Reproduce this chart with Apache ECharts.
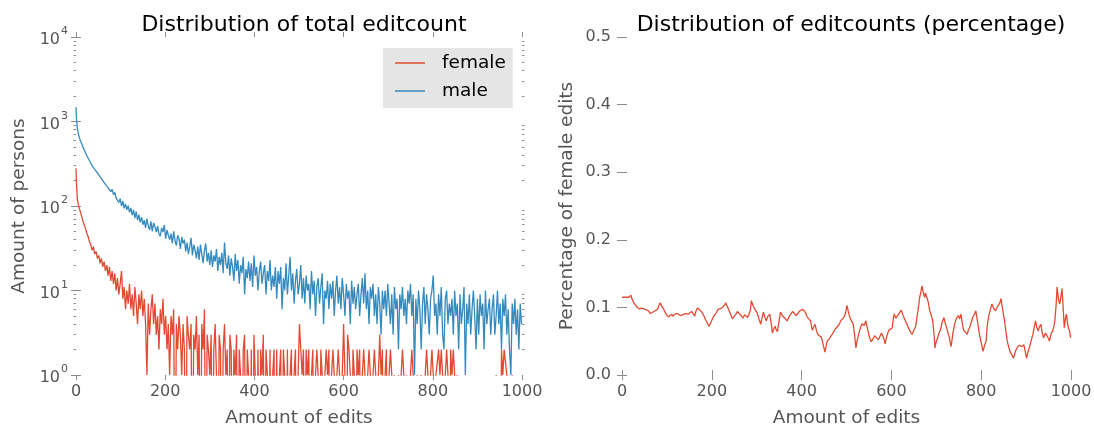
<!DOCTYPE html>
<html>
<head>
<meta charset="utf-8">
<script src="https://cdn.jsdelivr.net/npm/echarts/dist/echarts.min.js"></script>
<style>
html,body{margin:0;padding:0;background:#fff;}
#c{width:1094px;height:432px;}
</style>
</head>
<body>
<div id="c"></div>
<script>
// ---- Data ----
// x positions (amount of edits) for the count series: 0,1,2 then every 3 edits up to 999
const editsHead = [0, 1, 2];
const editStep = 3;
const editMax = 999;

const maleCounts = [
  1480, 1100, 950,
  830, 690, 610, 560, 510, 465, 430, 395, 370, 345,
  330, 300, 295, 272, 265, 246, 243, 222, 220, 200,
  200, 180, 188, 165, 172, 148, 158, 136, 145, 124,
  130, 110, 122, 100, 114, 94, 106, 90, 101, 84,
  95, 78, 90, 72, 86, 68, 79, 64, 74, 60,
  68, 55, 71, 58, 52, 66, 50, 63, 57, 49,
  58, 47, 44, 55, 49, 60, 41, 52, 45, 40,
  47, 36, 50, 39, 34, 45, 41, 31, 43, 36,
  40, 29, 37, 27, 33, 42, 26, 35, 30, 24,
  33, 23, 35, 27, 21, 30, 36, 22, 28, 20,
  30, 19, 26, 22, 31, 17, 25, 20, 28, 16,
  37, 21, 18, 26, 15, 24, 19, 13, 27, 17,
  23, 12, 20, 16, 25, 9, 18, 14, 22, 13,
  21, 11, 26, 15, 19, 10, 17, 22, 12, 16,
  20, 9, 17, 13, 23, 10, 15, 11, 19, 8,
  17, 12, 19, 6, 14, 10, 21, 9, 15, 25,
  10, 16, 7, 13, 18, 9, 12, 20, 8, 14,
  7, 15, 10, 12, 6, 17, 9, 13, 5, 11,
  14, 7, 11, 16, 4, 10, 8, 13, 6, 12,
  8, 13, 5, 10, 15, 7, 11, 6, 14, 9,
  5, 12, 8, 10, 4, 13, 7, 11, 6, 9,
  12, 5, 9, 14, 7, 16, 6, 10, 4, 11,
  8, 12, 5, 9, 4, 11, 7, 3, 10, 6,
  10, 5, 12, 7, 4, 9, 3, 11, 6, 8,
  2, 9, 6, 11, 5, 8, 4, 10, 7, 12,
  5, 9, 1, 8, 4, 10, 6, 2, 7, 11,
  4, 9, 6, 3, 8, 10, 15, 5, 7, 3,
  9, 5, 11, 3, 2, 8, 10, 4, 7, 5,
  8, 3, 10, 5, 7, 2, 9, 4, 6, 11,
  1, 7, 4, 9, 3, 6, 10, 5, 2, 8,
  3, 9, 5, 7, 2, 10, 4, 6, 8, 3,
  6, 9, 3, 5, 10, 4, 7, 2, 8, 5,
  9, 3, 6, 2, 1, 7, 4, 8, 3, 6,
  2, 7, 4
];

const femaleCounts = [
  280, 190, 150,
  120, 100, 88, 78, 68, 60, 55, 48, 44, 38,
  35, 30, 33, 27, 29, 24, 26, 21, 24, 19,
  22, 17, 20, 15, 19, 13, 17, 12, 16, 10,
  14, 9, 12, 17, 8, 11, 6, 10, 7, 12,
  6, 9, 5, 11, 7, 4, 9, 6, 10, 5,
  8, 4, 1, 7, 3, 6, 9, 4, 7, 3,
  5, 2, 6, 4, 8, 3, 5, 2, 4, 1,
  5, 3, 6, 0, 4, 2, 5, 3, 1, 4,
  2, 0, 5, 3, 2, 4, 0, 3, 2, 5,
  1, 3, 0, 4, 2, 6, 0, 3, 2, 1,
  3, 0, 2, 4, 1, 0, 3, 2, 0, 2,
  4, 1, 2, 0, 3, 2, 0, 2, 1, 3,
  0, 2, 1, 0, 2, 3, 0, 2, 1, 0,
  2, 0, 3, 1, 0, 2, 0, 2, 1, 3,
  0, 2, 1, 0, 2, 0, 1, 2, 0, 2,
  0, 1, 2, 0, 2, 1, 0, 2, 0, 1,
  2, 0, 1, 2, 0, 1, 4, 2, 1, 2,
  0, 2, 1, 2, 0, 1, 2, 0, 1, 2,
  1, 0, 2, 1, 0, 1, 2, 1, 2, 0,
  1, 2, 1, 0, 1, 2, 1, 0, 1, 4,
  1, 0, 3, 2, 1, 0, 2, 1, 0, 2,
  1, 2, 0, 1, 2, 1, 0, 1, 2, 1,
  0, 1, 2, 1, 0, 1, 3, 1, 2, 0,
  1, 2, 0, 1, 2, 1, 0, 1, 1, 0,
  1, 0, 1, 2, 1, 0, 1, 1, 0, 1,
  2, 1, 1, 0, 1, 1, 0, 1, 1, 0,
  1, 2, 1, 0, 1, 2, 1, 0, 1, 1,
  2, 1, 2, 1, 0, 1, 2, 1, 0, 2,
  1, 2, 1, 0, 1, 0, 0, 0, 0, 0,
  0, 0, 0, 0, 0, 0, 0, 0, 0, 0,
  0, 0, 0, 0, 0, 0, 0, 0, 0, 0,
  0, 0, 0, 1, 0, 0, 0, 2, 1, 2,
  2, 1, 0, 0, 0, 1, 0, 0, 0, 0,
  0, 0, 0
];

// [amount of edits, share of female edits]
const pctPoints = [
  [0,0.115],[5,0.115],[10,0.115],[15,0.115],[18,0.115],[20,0.118],[22,0.113],[24,0.110],[27,0.106],[30,0.104],
  [33,0.101],[36,0.099],[38,0.098],[40,0.097],[44,0.099],[48,0.098],[52,0.097],[55,0.098],[59,0.095],[63,0.091],
  [67,0.093],[71,0.094],[75,0.096],[79,0.097],[82,0.102],[85,0.107],[88,0.103],[90,0.100],[93,0.097],[95,0.095],
  [99,0.089],[103,0.086],[107,0.088],[111,0.090],[113,0.087],[115,0.088],[120,0.091],[125,0.090],[130,0.088],[135,0.089],
  [141,0.091],[147,0.090],[151,0.088],[155,0.094],[158,0.092],[162,0.087],[165,0.095],[168,0.099],[173,0.096],[178,0.093],
  [182,0.088],[186,0.082],[190,0.077],[194,0.072],[198,0.078],[202,0.084],[206,0.089],[210,0.092],[214,0.097],[218,0.095],
  [222,0.099],[226,0.100],[229,0.104],[231,0.107],[234,0.102],[238,0.096],[242,0.090],[246,0.083],[250,0.087],[254,0.090],
  [257,0.094],[261,0.093],[265,0.088],[269,0.084],[273,0.089],[277,0.087],[280,0.085],[283,0.083],[286,0.096],[288,0.110],
  [290,0.106],[293,0.101],[297,0.096],[301,0.092],[305,0.083],[309,0.075],[312,0.085],[315,0.093],[318,0.086],[321,0.080],
  [325,0.087],[329,0.090],[332,0.078],[335,0.062],[338,0.068],[341,0.072],[343,0.068],[346,0.064],[350,0.080],[353,0.093],
  [357,0.088],[361,0.085],[364,0.083],[368,0.080],[372,0.086],[376,0.090],[380,0.094],[384,0.096],[388,0.088],[392,0.090],
  [396,0.095],[400,0.093],[403,0.097],[406,0.098],[409,0.092],[412,0.086],[416,0.084],[420,0.080],[422,0.072],[424,0.066],
  [427,0.071],[430,0.075],[433,0.066],[436,0.060],[440,0.058],[444,0.056],[448,0.045],[452,0.034],[455,0.044],[457,0.050],
  [461,0.053],[464,0.055],[468,0.060],[471,0.062],[475,0.068],[479,0.066],[483,0.074],[487,0.080],[491,0.078],[495,0.086],
  [498,0.092],[501,0.103],[504,0.094],[507,0.086],[511,0.080],[515,0.075],[518,0.060],[521,0.040],[524,0.052],[527,0.060],
  [531,0.070],[535,0.076],[539,0.073],[543,0.080],[547,0.068],[551,0.056],[555,0.049],[559,0.050],[563,0.058],[567,0.060],
  [571,0.052],[574,0.054],[578,0.062],[582,0.060],[584,0.052],[586,0.046],[590,0.058],[594,0.066],[598,0.064],[602,0.070],
  [604,0.082],[606,0.090],[610,0.084],[614,0.086],[618,0.092],[622,0.096],[626,0.088],[630,0.082],[634,0.076],[638,0.070],
  [642,0.064],[646,0.060],[648,0.062],[650,0.058],[654,0.072],[658,0.090],[661,0.104],[663,0.115],[666,0.124],[668,0.132],
  [671,0.122],[674,0.115],[676,0.121],[678,0.120],[682,0.108],[685,0.096],[689,0.088],[692,0.080],[695,0.060],[697,0.040],
  [700,0.050],[703,0.055],[706,0.062],[709,0.066],[713,0.078],[717,0.085],[720,0.076],[723,0.070],[726,0.062],[729,0.056],
  [731,0.048],[733,0.042],[737,0.062],[741,0.076],[745,0.084],[749,0.088],[752,0.083],[755,0.090],[758,0.076],[761,0.066],
  [765,0.063],[769,0.060],[771,0.066],[774,0.070],[778,0.078],[781,0.085],[785,0.090],[788,0.095],[792,0.078],[796,0.060],
  [800,0.048],[804,0.035],[808,0.045],[811,0.050],[813,0.070],[816,0.085],[820,0.096],[824,0.105],[828,0.098],[832,0.095],
  [836,0.101],[840,0.105],[842,0.108],[844,0.113],[846,0.104],[848,0.096],[850,0.088],[852,0.080],[855,0.065],[858,0.050],
  [861,0.042],[864,0.035],[868,0.030],[872,0.025],[876,0.035],[880,0.040],[884,0.044],[887,0.046],[891,0.042],[895,0.045],
  [898,0.035],[901,0.025],[904,0.034],[907,0.040],[911,0.050],[915,0.060],[918,0.070],[921,0.080],[924,0.070],[927,0.065],
  [930,0.072],[933,0.075],[936,0.062],[939,0.055],[943,0.062],[947,0.060],[950,0.054],[952,0.050],[956,0.062],[959,0.065],
  [962,0.072],[964,0.080],[967,0.105],[969,0.130],[972,0.112],[975,0.105],[978,0.118],[980,0.128],[983,0.095],[985,0.070],
  [988,0.085],[990,0.090],[992,0.078],[994,0.070],[997,0.065],[999,0.055]
];

const logMinor = [];
[1, 10, 100, 1000].forEach(d => { for (let k = 2; k <= 9; k++) logMinor.push(k * d); });

// ---- build ----
const edits = editsHead.slice();
for (let e = editStep; e <= editMax; e += editStep) edits.push(e);

const ZERO_DRAW = 0.02; // zero counts drop below the log axis (clipped), as in the original
const maleData = edits.map((e, i) => [e, maleCounts[i] > 0 ? maleCounts[i] : ZERO_DRAW]);
const femaleData = edits.map((e, i) => [e, femaleCounts[i] > 0 ? femaleCounts[i] : ZERO_DRAW]);

const FONT = 'DejaVu Sans';
const TICK_COLOR = '#8c8c8c';
const LABEL_COLOR = '#555555';

function xAx(grid, pos, showLabel) {
  return {
    type: 'value', gridIndex: grid, position: pos, min: 0, max: 1000, interval: 200,
    axisLine: {show: false}, splitLine: {show: false},
    axisTick: {show: true, inside: false, length: 5, lineStyle: {color: TICK_COLOR, width: 1}},
    axisLabel: {show: showLabel, fontSize: 16, color: LABEL_COLOR, fontFamily: FONT, margin: 9,
                hideOverlap: false, showMaxLabel: true, showMinLabel: true, formatter: v => String(v)},
    name: showLabel ? 'Amount of edits' : '', nameLocation: 'middle', nameGap: 34,
    nameTextStyle: {fontSize: 18.5, color: LABEL_COLOR, fontFamily: FONT}
  };
}

const option = {
  animation: false,
  backgroundColor: '#ffffff',
  textStyle: {fontFamily: FONT},
  title: [
    {text: 'Distribution of total editcount', left: 299, top: 9, textAlign: 'center',
     textStyle: {fontSize: 22, fontWeight: 'normal', color: '#000', fontFamily: FONT}},
    {text: 'Distribution of editcounts (percentage)', left: 846, top: 9, textAlign: 'center',
     textStyle: {fontSize: 22, fontWeight: 'normal', color: '#000', fontFamily: FONT}}
  ],
  legend: {
    data: [{name: 'female', icon: 'rect'}, {name: 'male', icon: 'rect'}],
    orient: 'vertical', left: 383, top: 48,
    backgroundColor: '#e5e5e5', borderWidth: 0,
    padding: [5, 7, 7, 12], itemGap: 8,
    itemWidth: 30, itemHeight: 1.5,
    textStyle: {fontSize: 18.5, color: '#000', fontFamily: FONT, lineHeight: 20, padding: [0, 0, 0, 12]}
  },
  grid: [
    {left: 76, top: 37, width: 446, height: 338, outerBoundsMode: 'none', containLabel: false},
    {left: 622, top: 37, width: 449, height: 338, outerBoundsMode: 'none', containLabel: false}
  ],
  xAxis: [
    xAx(0, 'bottom', true),
    xAx(0, 'top', false),
    xAx(1, 'bottom', true),
    xAx(1, 'top', false)
  ],
  yAxis: [
    {
      type: 'log', logBase: 10, gridIndex: 0, position: 'left', min: 1, max: 10000,
      axisLine: {show: false}, splitLine: {show: false},
      axisTick: {show: true, length: 5, lineStyle: {color: TICK_COLOR}},
      axisLabel: {
        margin: 8, color: LABEL_COLOR,
        formatter: v => '{b|10}{e|' + Math.round(Math.log10(v)) + '}',
        rich: {
          b: {fontSize: 16, color: LABEL_COLOR, fontFamily: FONT, lineHeight: 22, verticalAlign: 'bottom'},
          e: {fontSize: 11, color: LABEL_COLOR, fontFamily: FONT, lineHeight: 22, verticalAlign: 'top', padding: [0, 0, 0, 1]}
        }
      },
      name: 'Amount of persons', nameLocation: 'middle', nameGap: 47, nameRotate: 90,
      nameTextStyle: {fontSize: 18.5, color: LABEL_COLOR, fontFamily: FONT}
    },
    {
      type: 'log', logBase: 10, gridIndex: 0, position: 'right', min: 1, max: 10000,
      axisLine: {show: false}, splitLine: {show: false},
      axisTick: {show: true, length: 5, lineStyle: {color: TICK_COLOR}},
      axisLabel: {show: false}
    },
    {
      type: 'log', logBase: 10, gridIndex: 0, position: 'left', min: 1, max: 10000,
      axisLine: {show: false}, splitLine: {show: false},
      axisTick: {show: true, length: 2.5, customValues: logMinor, lineStyle: {color: TICK_COLOR}},
      axisLabel: {show: false}
    },
    {
      type: 'log', logBase: 10, gridIndex: 0, position: 'right', min: 1, max: 10000,
      axisLine: {show: false}, splitLine: {show: false},
      axisTick: {show: true, length: 2.5, customValues: logMinor, lineStyle: {color: TICK_COLOR}},
      axisLabel: {show: false}
    },
    {
      type: 'value', gridIndex: 1, position: 'left', min: 0, max: 0.5, interval: 0.1,
      axisLine: {show: false}, splitLine: {show: false},
      axisTick: {show: true, length: 5, lineStyle: {color: TICK_COLOR}},
      axisLabel: {margin: 11, fontSize: 16, color: LABEL_COLOR, fontFamily: FONT, formatter: v => v.toFixed(1)},
      name: 'Percentage of female edits', nameLocation: 'middle', nameGap: 45, nameRotate: 90,
      nameTextStyle: {fontSize: 18.5, color: LABEL_COLOR, fontFamily: FONT}
    },
    {
      type: 'value', gridIndex: 1, position: 'right', min: 0, max: 0.5, interval: 0.1,
      axisLine: {show: false}, splitLine: {show: false},
      axisTick: {show: true, length: 5, lineStyle: {color: TICK_COLOR}},
      axisLabel: {show: false}
    }
  ],
  series: [
    {name: 'female', type: 'line', xAxisIndex: 0, yAxisIndex: 0, data: femaleData,
     showSymbol: false, symbol: 'none', clip: true, color: '#E24A33',
     lineStyle: {width: 1.3, color: '#E24A33'}},
    {name: 'male', type: 'line', xAxisIndex: 0, yAxisIndex: 0, data: maleData,
     showSymbol: false, symbol: 'none', clip: true, color: '#348ABD',
     lineStyle: {width: 1.3, color: '#348ABD'}},
    {name: 'percentage', type: 'line', xAxisIndex: 2, yAxisIndex: 4, data: pctPoints,
     showSymbol: false, symbol: 'none', clip: true, color: '#E24A33',
     lineStyle: {width: 1.3, color: '#E24A33'}}
  ]
};

const chart = echarts.init(document.getElementById('c'), null, {renderer: 'canvas'});
chart.setOption(option);
</script>
</body>
</html>
